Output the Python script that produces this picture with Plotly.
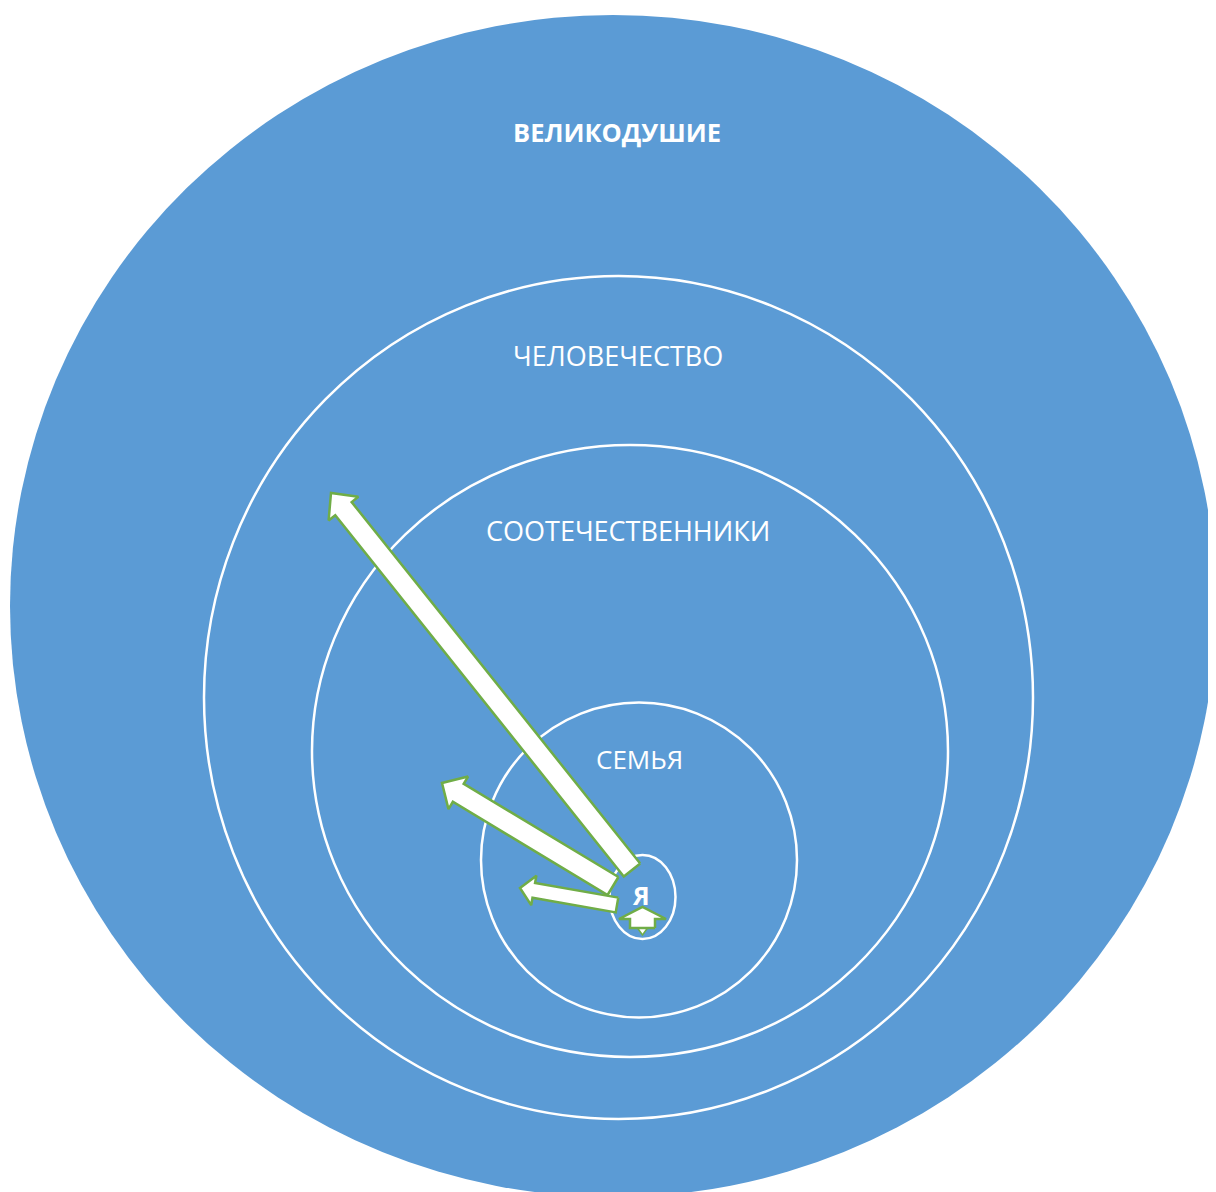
import numpy as np
import plotly.graph_objects as go

# ---- data -------------------------------------------------------------
ring_labels = ["ВЕЛИКОДУШИЕ", "ЧЕЛОВЕЧЕСТВО", "СООТЕЧЕСТВЕННИКИ", "СЕМЬЯ", "Я"]
ring_cx = [613, 618.5, 630, 639, 642.5]
ring_cy = [606, 697.5, 751, 860, 897]
ring_rx = [603, 414.5, 318, 158, 33]
ring_ry = [591, 421.5, 306, 157.5, 42]
label_x = [617, 618, 628, 639, 641]
label_y = [132, 355, 530, 759, 895]
label_bold = [True, False, False, False, True]
label_size = [25.5, 27, 27, 26, 25]

# arrows: tail -> tip
arrow_tail_x = [632, 613, 617]
arrow_tail_y = [870, 886, 905]
arrow_tip_x = [331, 442, 520]
arrow_tip_y = [493, 783, 888]
arrow_shaft_w = [21, 21, 15]
arrow_head_w = [38, 38, 30]
arrow_head_l = [20, 19, 14]

# the small up arrow inside "Я"
up_x = 642.5
up_tip_y = 907
up_base_y = 928
up_head_w = 47
up_head_l = 12
up_shaft_w = 25

BLUE = "#5B9BD5"
GREEN = "#70AD47"
W, H = 1216, 1192
OFF = 8  # page body margin

fig = go.Figure()

# rings
for i in range(len(ring_labels)):
    fig.add_shape(
        type="circle", xref="x", yref="y",
        x0=ring_cx[i] - ring_rx[i], x1=ring_cx[i] + ring_rx[i],
        y0=ring_cy[i] - ring_ry[i], y1=ring_cy[i] + ring_ry[i],
        fillcolor=BLUE,
        line=dict(color=BLUE if i == 0 else "white", width=0 if i == 0 else 2.5),
        layer="below",
    )


def arrow_poly(x0, y0, x1, y1, sw, hw, hl):
    d = np.array([x1 - x0, y1 - y0], dtype=float)
    L = np.hypot(*d)
    u = d / L
    n = np.array([-u[1], u[0]])
    p0 = np.array([x0, y0], dtype=float)
    p1 = np.array([x1, y1], dtype=float)
    pb = p1 - u * hl
    pts = [
        p0 + n * sw / 2,
        pb + n * sw / 2,
        pb + n * hw / 2,
        p1,
        pb - n * hw / 2,
        pb - n * sw / 2,
        p0 - n * sw / 2,
        p0 + n * sw / 2,
    ]
    xs = [p[0] for p in pts]
    ys = [p[1] for p in pts]
    return xs, ys


for i in range(len(arrow_tip_x)):
    xs, ys = arrow_poly(arrow_tail_x[i], arrow_tail_y[i], arrow_tip_x[i], arrow_tip_y[i],
                        arrow_shaft_w[i], arrow_head_w[i], arrow_head_l[i])
    fig.add_trace(go.Scatter(x=xs, y=ys, mode="lines", fill="toself",
                             fillcolor="white", line=dict(color=GREEN, width=2.5),
                             hoverinfo="skip", showlegend=False))

# small down notch under the up arrow
fig.add_trace(go.Scatter(
    x=[up_x - 5, up_x + 5, up_x, up_x - 5],
    y=[up_base_y, up_base_y, up_base_y + 7, up_base_y],
    mode="lines", fill="toself", fillcolor="white",
    line=dict(color=GREEN, width=1.5), hoverinfo="skip", showlegend=False))

xs, ys = arrow_poly(up_x, up_base_y, up_x, up_tip_y, up_shaft_w, up_head_w, up_head_l)
fig.add_trace(go.Scatter(x=xs, y=ys, mode="lines", fill="toself",
                         fillcolor="white", line=dict(color=GREEN, width=2.5),
                         hoverinfo="skip", showlegend=False))

# labels
for i in range(len(ring_labels)):
    txt = f"<b>{ring_labels[i]}</b>" if label_bold[i] else ring_labels[i]
    fig.add_annotation(x=label_x[i], y=label_y[i], xref="x", yref="y", text=txt,
                       showarrow=False,
                       font=dict(family="Open Sans", size=label_size[i], color="white"),
                       xanchor="center", yanchor="middle")

fig.update_layout(
    width=W - OFF, height=H - OFF, autosize=False,
    margin=dict(l=0, r=0, t=0, b=0, pad=0),
    paper_bgcolor="white", plot_bgcolor="white",
    xaxis=dict(range=[OFF, W], visible=False, fixedrange=True),
    yaxis=dict(range=[H, OFF], visible=False, fixedrange=True),
    showlegend=False,
)

fig.write_html("out.html")
